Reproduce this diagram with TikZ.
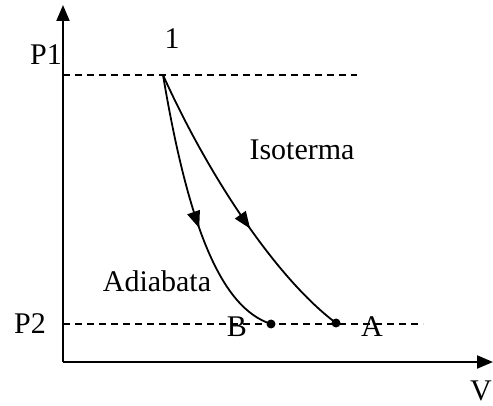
\documentclass[tikz,border=0pt]{standalone}
\usepackage{fontspec}
\setmainfont{Liberation Serif}
\usetikzlibrary{arrows.meta, decorations.markings}

\tikzset{
  axis/.style={line width=2pt, -{Triangle[length=16pt,width=13pt]}},
  level/.style={line width=1.4pt, dash pattern=on 7pt off 5pt},
  process/.style={line width=1.8pt},
  midarrow/.style={postaction={decorate}, decoration={markings,
    mark=at position #1 with {\arrow{Triangle[length=17pt,width=13pt]}}}},
  lbl/.style={anchor=base, inner sep=0pt, font=\fontsize{30}{35}\selectfont},
  statedot/.style={circle, fill, inner sep=0pt, minimum size=9pt}
}

\begin{document}
\begin{tikzpicture}[x=1pt,y=-1pt]
  \useasboundingbox (0,0) rectangle (493,406);
  % axes
  \coordinate (O) at (63,362);
  \coordinate (ytop) at (63,5);
  \coordinate (xend) at (493,362);
  \draw[axis] (O) -- (ytop);
  \draw[axis] (O) -- (xend);
  % pressure levels
  \coordinate (p1axis) at (63,75);
  \coordinate (p1end) at (357,75);
  \coordinate (p2axis) at (63,324);
  \coordinate (p2end) at (423,324);
  \draw[level] (p1axis) -- (p1end);
  \draw[level] (p2axis) -- (p2end);
  % states
  \coordinate (s1) at (163,75);
  \node[statedot] (sB) at (271,324) {};
  \node[statedot] (sA) at (336,323) {};
  % processes
  \draw[process, midarrow=0.56] (s1) .. controls (189,230) and (222,308) .. (sB.center);
  \draw[process, midarrow=0.58] (s1) .. controls (208,175) and (276,278) .. (sA.center);
  % labels
  \node[lbl] (l1) at (172,49) {1};
  \node[lbl] (lP1) at (46,65) {P1};
  \node[lbl] (lP2) at (30,334) {P2};
  \node[lbl] (liso) at (302,160) {Isoterma};
  \node[lbl] (ladi) at (157,291) {Adiabata};
  \node[lbl] (lB) at (237,336) {B};
  \node[lbl] (lA) at (372,336) {A};
  \node[lbl] (lV) at (481,400) {V};
\end{tikzpicture}
\end{document}
